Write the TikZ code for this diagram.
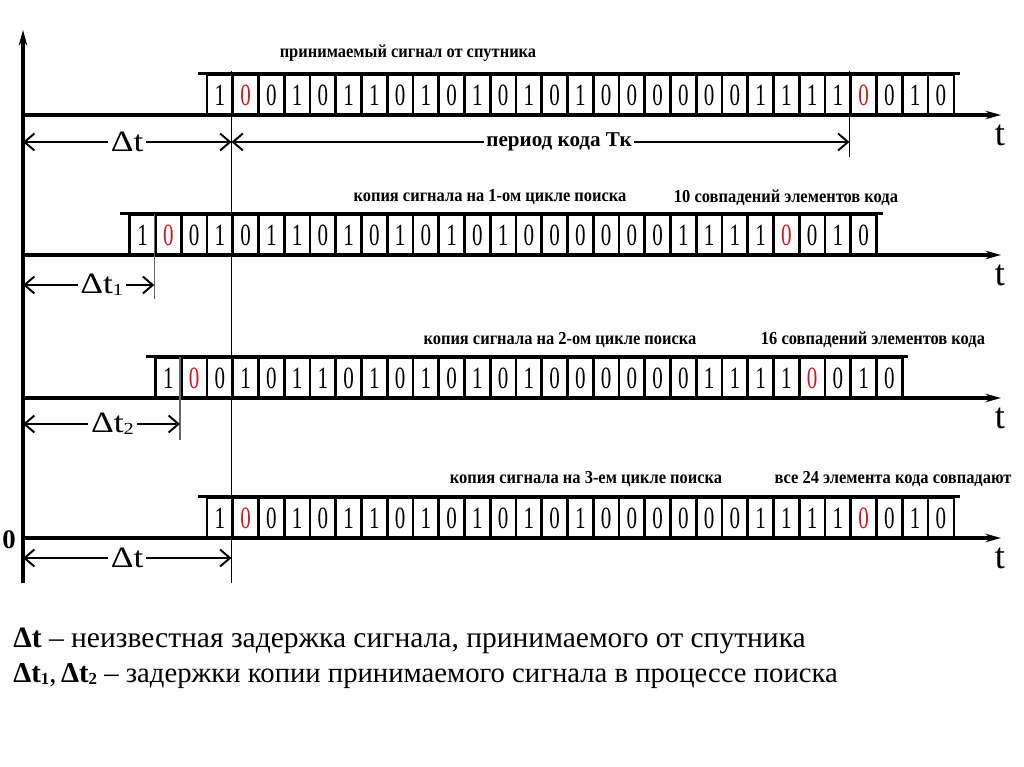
\documentclass[tikz,border=0pt]{standalone}
\usepackage{fontspec}
\setmainfont{Liberation Serif}
\newfontfamily\lblfont[FakeStretch=0.9]{Liberation Serif}
\newfontfamily\digfont[FakeStretch=0.68]{Liberation Serif}
\newfontfamily\dtfont[FakeStretch=1.2]{Liberation Serif}
\newcommand\sub[1]{{\fontsize{12}{12}\selectfont\raisebox{-0.3ex}{#1}}}
\usetikzlibrary{arrows.meta}
\definecolor{bitred}{RGB}{205,25,35}
\begin{document}
\begin{tikzpicture}[
        x=0.025cm, y=-0.025cm,
        axis/.style={line width=2.2pt, -{Stealth[length=11pt, width=6pt]}},
        cell/.style={draw, line width=1.8pt, inner sep=0pt, minimum width=0.64375cm, minimum height=1cm,
            font=\digfont\fontsize{22}{22}\selectfont},
        dim/.style={line width=1.4pt, {Straight Barb[length=7pt, width=12pt]}-{Straight Barb[length=7pt, width=12pt]}},
        marker/.style={line width=0.9pt},
        lbl/.style={font=\lblfont\bfseries\fontsize{13}{13}\selectfont},
        dlbl/.style={fill=white, inner sep=2pt, font=\dtfont\fontsize{21}{21}\selectfont},
        tlbl/.style={font=\fontsize{26}{26}\selectfont},
        note/.style={anchor=west, inner sep=0pt, font=\fontsize{21}{21}\selectfont}
    ]
    \useasboundingbox (0,0) rectangle (1024,767);
    \coordinate (ytop) at (23,30);
    \coordinate (ybot) at (23,583);
    \draw[axis] (ybot) -- (ytop);
    \node[font=\bfseries\fontsize{19}{19}\selectfont] (zero) at (9,540) {0};
    \foreach \r/\x/\y in {1/207/115, 2/129.75/255, 3/155.5/398, 4/207/538} {
        \coordinate (o\r) at (23,\y);
        \coordinate (e\r) at (1001,\y);
        \draw[axis] (o\r) -- (e\r);
        \node[tlbl] (t\r) at (1000,\y+20) {t};
        \foreach \b [count=\i from 0] in {1,0,0,1,0,1,1,0,1,0,1,0,1,0,1,0,0,0,0,0,0,1,1,1,1,0,0,1,0} {
            \ifnum\i=1 \def\c{bitred}\else\ifnum\i=25 \def\c{bitred}\else\def\c{black}\fi\fi
            \node[cell, text=\c] (c\r-\i) at (\x+\i*25.75+12.875,\y-20) {\b};
        }
        \draw[line width=1.8pt] ([xshift=-0.2cm]c\r-0.north west) -- ([xshift=0.12cm]c\r-28.north east);
    }
    \coordinate (vb) at (232,583);
    \coordinate (m1) at (849,157);
    \coordinate (m2) at (155,299);
    \coordinate (m3) at (181,440);
    \draw[line width=1pt] ([yshift=0.08cm]c1-1.north west) -- (c1-1.north west |- vb);
    \draw[marker] ([yshift=0.08cm]c1-25.north west) -- (c1-25.north west |- m1);
    \draw[marker, black!60] (c2-1.north west) -- (c2-1.north west |- m2);
    \draw[marker, black!60] (c3-1.north west) -- (c3-1.north west |- m3);
    \coordinate (d1) at (23,142);
    \coordinate (d2) at (23,285);
    \coordinate (d3) at (23,424);
    \coordinate (d4) at (23,558);
    \draw[dim] (d1) -- (d1 -| c1-1.west) node[dlbl, midway] (dt) {Δt};
    \draw[dim] (d1 -| c1-1.west) -- (d1 -| c1-25.west)
        node[dlbl, font=\bfseries\fontsize{15}{15}\selectfont, pos=0.53] (per) {период кода Тк};
    \draw[dim] (d2) -- (d2 -| c2-1.west) node[dlbl, pos=0.6] (dt1) {Δt\sub{1}};
    \draw[dim] (d3) -- (d3 -| c3-1.west) node[dlbl, pos=0.57] (dt2) {Δt\sub{2}};
    \draw[dim] (d4) -- (d4 -| c4-1.west) node[dlbl, midway] (dt4) {Δt};
    \node[lbl] (l1) at (408,53) {принимаемый сигнал от спутника};
    \node[lbl] (l2a) at (490,197) {копия сигнала на 1-ом цикле поиска};
    \node[lbl] (l2b) at (786,198) {10 совпадений элементов кода};
    \node[lbl] (l3a) at (560,340) {копия сигнала на 2-ом цикле поиска};
    \node[lbl] (l3b) at (873,340) {16 совпадений элементов кода};
    \node[lbl] (l4a) at (586,479) {копия сигнала на 3-ем цикле поиска};
    \node[lbl] (l4b) at (893,479) {все 24 элемента кода совпадают};
    \node[note] (n1) at (13,641) {\textbf{Δt} – неизвестная задержка сигнала, принимаемого от спутника};
    \node[note, font=\fontsize{20.4}{20.4}\selectfont] (n2) at (13,676)
        {\textbf{Δt\sub{1}},\,\textbf{Δt\sub{2}} – задержки копии принимаемого сигнала в процессе поиска};
\end{tikzpicture}
\end{document}
